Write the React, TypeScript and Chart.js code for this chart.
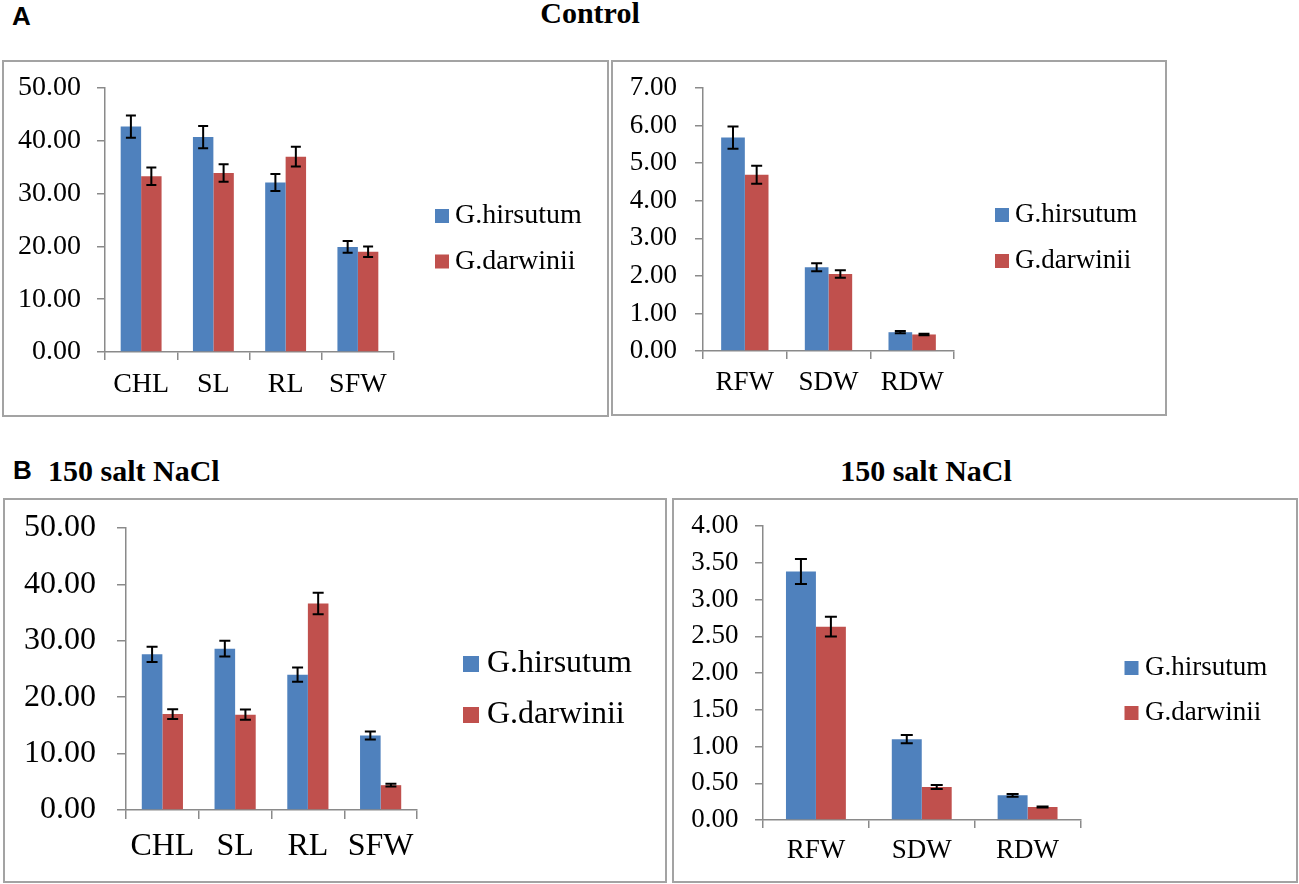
import { useEffect, useRef } from 'react';
import { Chart, BarController, BarElement, CategoryScale, LinearScale } from 'chart.js';

Chart.register(BarController, BarElement, CategoryScale, LinearScale);

const SERIES = ['G.hirsutum', 'G.darwinii'];
const BLUE = '#4F81BD';
const RED = '#C0504D';
const AXIS = '#8a8a8a';
const FONT = "'Liberation Serif', 'Times New Roman', serif";

// A: control
const ctrlGrowthLabels = ['CHL', 'SL', 'RL', 'SFW'];
const ctrlGrowthHirsutum = [42.7, 40.7, 32.1, 19.9];
const ctrlGrowthHirsutumErr = [2.1, 2.1, 1.6, 1.1];
const ctrlGrowthDarwinii = [33.3, 33.9, 37.0, 19.0];
const ctrlGrowthDarwiniiErr = [1.65, 1.65, 1.85, 1.0];
const ctrlGrowthAxis = { max: 50, step: 10 };

const ctrlWeightLabels = ['RFW', 'SDW', 'RDW'];
const ctrlWeightHirsutum = [5.68, 2.23, 0.5];
const ctrlWeightHirsutumErr = [0.295, 0.105, 0.03];
const ctrlWeightDarwinii = [4.69, 2.05, 0.44];
const ctrlWeightDarwiniiErr = [0.24, 0.1, 0.02];
const ctrlWeightAxis = { max: 7, step: 1 };

// B: 150 salt NaCl
const saltGrowthLabels = ['CHL', 'SL', 'RL', 'SFW'];
const saltGrowthHirsutum = [27.6, 28.6, 24.0, 13.2];
const saltGrowthHirsutumErr = [1.35, 1.4, 1.25, 0.7];
const saltGrowthDarwinii = [17.0, 16.9, 36.6, 4.4];
const saltGrowthDarwiniiErr = [0.85, 0.9, 1.9, 0.25];
const saltGrowthAxis = { max: 50, step: 10 };

const saltWeightLabels = ['RFW', 'SDW', 'RDW'];
const saltWeightHirsutum = [3.38, 1.1, 0.336];
const saltWeightHirsutumErr = [0.17, 0.055, 0.018];
const saltWeightDarwinii = [2.63, 0.45, 0.177];
const saltWeightDarwiniiErr = [0.135, 0.027, 0.008];
const saltWeightAxis = { max: 4, step: 0.5 };

// draws mean +/- error whiskers from each dataset's `errors` array
const errorBars = {
  id: 'errorBars',
  afterDatasetsDraw(chart: any, _args: any, opts: any) {
    const { ctx } = chart;
    const y = chart.scales.y;
    const h = opts.cap / 2;
    ctx.save();
    ctx.strokeStyle = '#000';
    ctx.lineWidth = opts.width;
    chart.data.datasets.forEach((ds: any, di: number) => {
      chart.getDatasetMeta(di).data.forEach((bar: any, i: number) => {
        const v = ds.data[i];
        const e = ds.errors[i];
        const top = y.getPixelForValue(v + e);
        const bot = y.getPixelForValue(v - e);
        ctx.beginPath();
        ctx.moveTo(bar.x, top); ctx.lineTo(bar.x, bot);
        ctx.moveTo(bar.x - h, top); ctx.lineTo(bar.x + h, top);
        ctx.moveTo(bar.x - h, bot); ctx.lineTo(bar.x + h, bot);
        ctx.stroke();
      });
    });
    ctx.restore();
  },
};

// Excel-like legend to the right of the plot
const sideLegend = {
  id: 'sideLegend',
  afterDraw(chart: any, _args: any, opts: any) {
    const { ctx, chartArea } = chart;
    ctx.save();
    ctx.font = `${opts.size}px ${FONT}`;
    ctx.textBaseline = 'middle';
    chart.data.datasets.forEach((ds: any, i: number) => {
      const cy = opts.y0 + i * opts.step;
      const x = chartArea.right + opts.dx;
      ctx.fillStyle = ds.backgroundColor;
      ctx.fillRect(x, cy - opts.box / 2, opts.box, opts.box);
      ctx.fillStyle = '#000';
      ctx.fillText(ds.label, x + opts.box + opts.gap, cy);
    });
    ctx.restore();
  },
};

type PanelProps = {
  box: { left: number; top: number; width: number; height: number };
  labels: string[];
  hirsutum: number[]; hirsutumErr: number[];
  darwinii: number[]; darwiniiErr: number[];
  axis: { max: number; step: number };
  fmt: {
    size: number; yw: number; xh: number; top: number; right: number;
    tl: number; yPad: number; xPad: number; cap: number;
    legend: { dx: number; box: number; gap: number; y0: number; step: number };
  };
};

function Panel({ box, labels, hirsutum, hirsutumErr, darwinii, darwiniiErr, axis, fmt }: PanelProps) {
  const canvasRef = useRef<HTMLCanvasElement>(null);

  useEffect(() => {
    if (!canvasRef.current) return;
    const font = { family: FONT, size: fmt.size };
    const chart = new Chart(canvasRef.current, {
      type: 'bar',
      data: {
        labels,
        datasets: [
          { label: SERIES[0], data: hirsutum, errors: hirsutumErr, backgroundColor: BLUE } as any,
          { label: SERIES[1], data: darwinii, errors: darwiniiErr, backgroundColor: RED } as any,
        ],
      },
      options: {
        responsive: true,
        maintainAspectRatio: false,
        animation: false,
        events: [],
        datasets: { bar: { categoryPercentage: 0.566, barPercentage: 1, borderWidth: 0 } },
        layout: { padding: { left: 0, top: fmt.top, right: fmt.right, bottom: 3 } },
        scales: {
          x: {
            offset: true,
            grid: { offset: true, drawOnChartArea: false, drawTicks: true, tickLength: fmt.tl, color: AXIS, lineWidth: 1.5 },
            border: { color: AXIS, width: 1.5 },
            ticks: { font, color: '#000', padding: fmt.xPad, maxRotation: 0, autoSkip: false },
            afterFit: (s: any) => { s.height = fmt.xh; s.paddingLeft = 0; s.paddingRight = 0; },
          },
          y: {
            min: 0,
            max: axis.max,
            grid: { drawOnChartArea: false, drawTicks: true, tickLength: fmt.tl, color: AXIS, lineWidth: 1.5 },
            border: { color: AXIS, width: 1.5 },
            ticks: { stepSize: axis.step, font, color: '#000', padding: fmt.yPad, callback: (v: any) => Number(v).toFixed(2) },
            afterFit: (s: any) => { s.width = fmt.yw; s.paddingTop = 0; s.paddingBottom = 0; },
          },
        },
        plugins: {
          errorBars: { cap: fmt.cap, width: 2 },
          sideLegend: { size: fmt.size, ...fmt.legend },
        } as any,
      },
      plugins: [errorBars, sideLegend],
    } as any);
    return () => { chart.destroy(); };
  }, []);

  return (
    <div style={{
      position: 'absolute', left: box.left, top: box.top, width: box.width, height: box.height,
      boxSizing: 'border-box', border: '2px solid #a3a3a3', background: '#fff',
    }}>
      <div style={{ position: 'relative', width: box.width - 4, height: box.height - 4 }}>
        <canvas ref={canvasRef} />
      </div>
    </div>
  );
}

const serifBold = { position: 'absolute' as const, fontFamily: FONT, fontWeight: 700, lineHeight: 1, whiteSpace: 'nowrap' as const };
const sansBold = { position: 'absolute' as const, fontFamily: "'Liberation Sans', Arial, sans-serif", fontWeight: 700, lineHeight: 1 };

export default function App() {
  return (
    <div style={{ position: 'absolute', left: 0, top: 0, width: 1299, height: 884, background: '#fff', overflow: 'hidden' }}>
      <div style={{ ...sansBold, left: 12, top: 3, fontSize: 26 }}>A</div>
      <div style={{ ...serifBold, left: 590, top: -2, fontSize: 30, transform: 'translateX(-50%)' }}>Control</div>
      <div style={{ ...sansBold, left: 13, top: 457, fontSize: 26 }}>B</div>
      <div style={{ ...serifBold, left: 48, top: 455.5, fontSize: 30 }}>150 salt NaCl</div>
      <div style={{ ...serifBold, left: 926, top: 455.5, fontSize: 30, transform: 'translateX(-50%)' }}>150 salt NaCl</div>

      <Panel
        box={{ left: 2, top: 60, width: 607, height: 357 }}
        labels={ctrlGrowthLabels}
        hirsutum={ctrlGrowthHirsutum} hirsutumErr={ctrlGrowthHirsutumErr}
        darwinii={ctrlGrowthDarwinii} darwiniiErr={ctrlGrowthDarwiniiErr}
        axis={ctrlGrowthAxis}
        fmt={{ size: 28, yw: 101, xh: 60, top: 26, right: 213, tl: 8, yPad: 16, xPad: 8, cap: 10,
          legend: { dx: 41, box: 14, gap: 6, y0: 154, step: 45.5 } }}
      />
      <Panel
        box={{ left: 611, top: 60, width: 556, height: 356 }}
        labels={ctrlWeightLabels}
        hirsutum={ctrlWeightHirsutum} hirsutumErr={ctrlWeightHirsutumErr}
        darwinii={ctrlWeightDarwinii} darwiniiErr={ctrlWeightDarwiniiErr}
        axis={ctrlWeightAxis}
        fmt={{ size: 27, yw: 90, xh: 60, top: 26, right: 211, tl: 8, yPad: 18, xPad: 7.5, cap: 11,
          legend: { dx: 41, box: 14, gap: 6, y0: 153, step: 46 } }}
      />
      <Panel
        box={{ left: 3, top: 498, width: 664, height: 385 }}
        labels={saltGrowthLabels}
        hirsutum={saltGrowthHirsutum} hirsutumErr={saltGrowthHirsutumErr}
        darwinii={saltGrowthDarwinii} darwiniiErr={saltGrowthDarwiniiErr}
        axis={saltGrowthAxis}
        fmt={{ size: 32, yw: 121, xh: 68, top: 28, right: 248, tl: 9, yPad: 21, xPad: 8.8, cap: 11,
          legend: { dx: 46, box: 16, gap: 8, y0: 164, step: 51 } }}
      />
      <Panel
        box={{ left: 672, top: 498, width: 626, height: 385 }}
        labels={saltWeightLabels}
        hirsutum={saltWeightHirsutum} hirsutumErr={saltWeightHirsutumErr}
        darwinii={saltWeightDarwinii} darwiniiErr={saltWeightDarwiniiErr}
        axis={saltWeightAxis}
        fmt={{ size: 27, yw: 89, xh: 58, top: 26, right: 215.5, tl: 8, yPad: 16.5, xPad: 6.8, cap: 12,
          legend: { dx: 44, box: 14, gap: 6.5, y0: 168, step: 45 } }}
      />
    </div>
  );
}
